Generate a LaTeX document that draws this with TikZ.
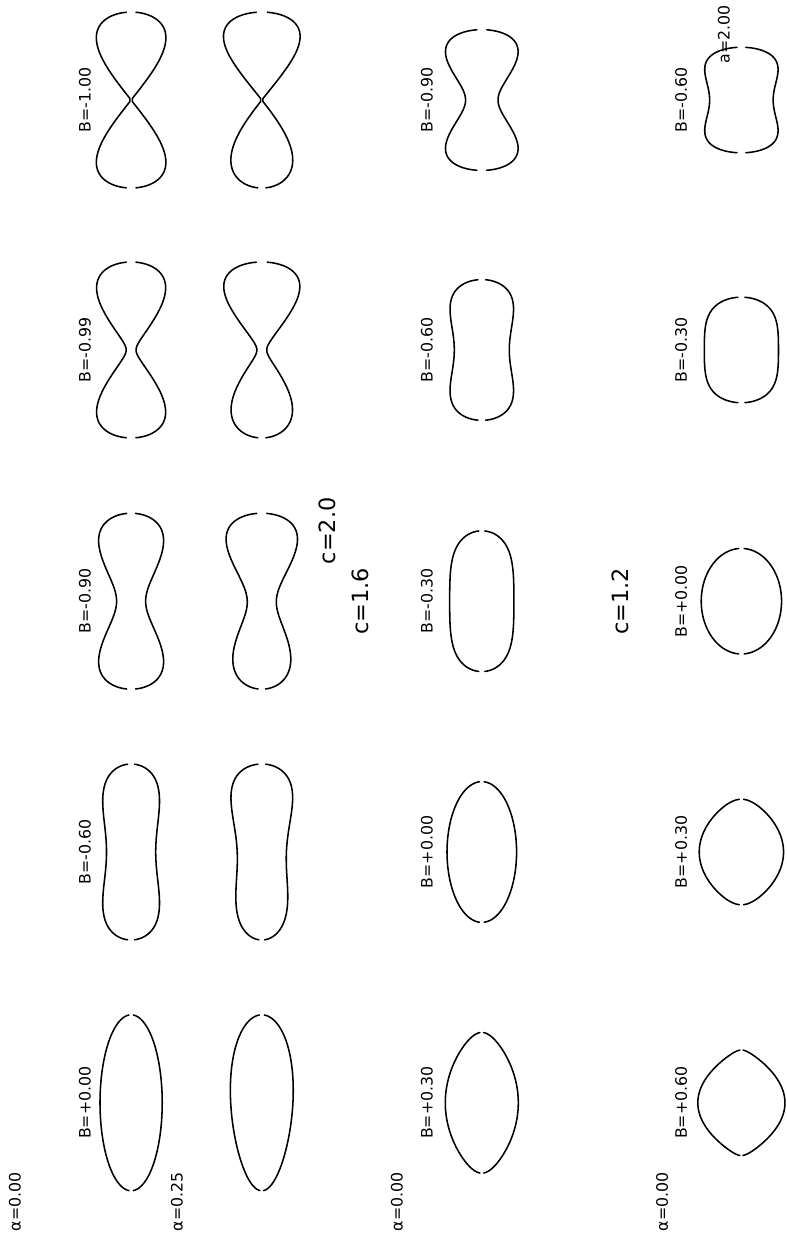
\documentclass[tikz,border=0pt]{standalone}
\usepackage{fontspec}
\setmainfont{DejaVu Sans}
\usepackage{tikz}
\tikzset{
  rim/.style={
    line width=1pt,
    line cap=round,
  },
  blabel/.style={
    rotate=90,
    inner sep=0pt,
    font=\fontsize{10.2}{12}\selectfont
  },
  clabel/.style={
    rotate=90,
    inner sep=0pt,
    font=\fontsize{14.5}{16}\selectfont
  },
  % c / B / alpha
  pics/nucleus/.style args={#1/#2/#3}{
    code={
      \pgfmathsetmacro\kk{(4/3)/(#1*(4/3+0.8*(#2)))}
      \draw[rim] plot[domain=4:176, samples=90, variable=\ang]
        ({sin(\ang)*sqrt(abs(\kk*(1+(#2)-2*(#2)*cos(\ang)*cos(\ang))*(1-(#3)*cos(\ang))))},
         {-#1*cos(\ang)});
      \draw[rim] plot[domain=4:176, samples=90, variable=\ang]
        ({-sin(\ang)*sqrt(abs(\kk*(1+(#2)-2*(#2)*cos(\ang)*cos(\ang))*(1-(#3)*cos(\ang))))},
         {-#1*cos(\ang)});
    }
  }
}
\begin{document}
\begin{tikzpicture}
    \useasboundingbox (0,0) rectangle (17.864,28.364);
    % c=2.0, alpha=0
    \pic at (2.98,26.09) {nucleus=2.0/-1.00/0};
    \pic at (2.98,20.41) {nucleus=2.0/-0.99/0};
    \pic at (2.98,14.70) {nucleus=2.0/-0.90/0};
    \pic at (2.98,9.00) {nucleus=2.0/-0.60/0};
    \pic at (2.98,3.30) {nucleus=2.0/0.00/0};
    % c=2.0, alpha=0.25
    \pic at (5.95,26.09) {nucleus=2.0/-1.00/0.3};
    \pic at (5.95,20.41) {nucleus=2.0/-0.99/0.3};
    \pic at (5.95,14.70) {nucleus=2.0/-0.90/0.3};
    \pic at (5.95,9.00) {nucleus=2.0/-0.60/0.3};
    \pic at (5.95,3.30) {nucleus=2.0/0.00/0.3};
    % c=1.6
    \pic at (10.95,26.09) {nucleus=1.6/-0.90/0};
    \pic at (10.95,20.41) {nucleus=1.6/-0.60/0};
    \pic at (10.95,14.70) {nucleus=1.6/-0.30/0};
    \pic at (10.95,9.00) {nucleus=1.6/0.00/0};
    \pic at (10.95,3.30) {nucleus=1.6/0.30/0};
    % c=1.2
    \pic at (16.85,26.09) {nucleus=1.2/-0.60/0};
    \pic at (16.85,20.41) {nucleus=1.2/-0.30/0};
    \pic at (16.85,14.70) {nucleus=1.2/0.00/0};
    \pic at (16.85,9.00) {nucleus=1.2/0.30/0};
    \pic at (16.85,3.30) {nucleus=1.2/0.60/0};
    % labels
    \node[blabel] (b1a) at (1.93,26.09) {B=-1.00};
    \node[blabel] (b1b) at (1.93,20.41) {B=-0.99};
    \node[blabel] (b1c) at (1.93,14.70) {B=-0.90};
    \node[blabel] (b1d) at (1.93,9.00) {B=-0.60};
    \node[blabel] (b1e) at (1.93,3.30) {B=+0.00};
    \node[blabel] (b3a) at (9.70,26.09) {B=-0.90};
    \node[blabel] (b3b) at (9.70,20.41) {B=-0.60};
    \node[blabel] (b3c) at (9.70,14.70) {B=-0.30};
    \node[blabel] (b3d) at (9.70,9.00) {B=+0.00};
    \node[blabel] (b3e) at (9.70,3.30) {B=+0.30};
    \node[blabel] (b4a) at (15.48,26.09) {B=-0.60};
    \node[blabel] (b4b) at (15.48,20.41) {B=-0.30};
    \node[blabel] (b4c) at (15.48,14.70) {B=+0.00};
    \node[blabel] (b4d) at (15.48,9.00) {B=+0.30};
    \node[blabel] (b4e) at (15.48,3.30) {B=+0.60};
    \node[blabel] (a1) at (0.34,1.045) {α=0.00};
    \node[blabel] (a2) at (4.02,1.045) {α=0.25};
    \node[blabel] (a3) at (9.02,1.045) {α=0.00};
    \node[blabel] (a4) at (15.05,1.045) {α=0.00};
    \node[clabel] (c20) at (7.45,16.30) {c=2.0};
    \node[clabel] (c16) at (8.18,14.70) {c=1.6};
    \node[clabel] (c12) at (14.09,14.70) {c=1.2};
    \node[blabel] (atop) at (16.45,27.58) {a=2.00};
\end{tikzpicture}
\end{document}
